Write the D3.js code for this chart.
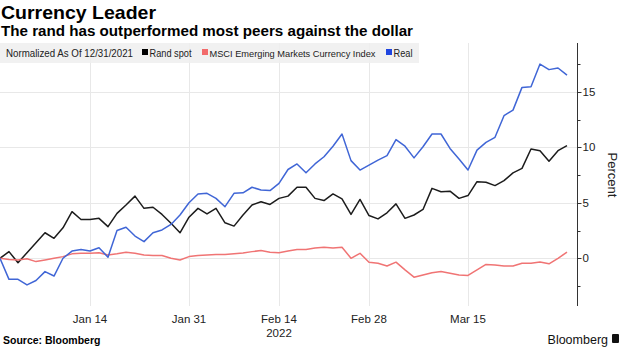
<!DOCTYPE html>
<html lang="en">
<head>
    <meta charset="UTF-8">
    <title>Currency Leader</title>
    <script src="https://d3js.org/d3.v7.min.js"></script>
    <style>
        body { margin: 0; background: #fff; }
        text { font-family: 'Liberation Sans', Arial, sans-serif; fill: #000; }
        .legend text { font-size: 10.5px; fill: #222; }
    </style>
</head>
<body>
<script>
    const width = 620;
    const height = 348;

    // weekdays from 12/31/2021 to 3/30/2022 (64 trading days)
    const dates = d3.utcDay.range(new Date(Date.UTC(2021, 11, 31)), new Date(Date.UTC(2022, 2, 31)))
                    .filter(d => d.getUTCDay() !== 0 && d.getUTCDay() !== 6);

    const randSpot = [0, 0.6, -0.4, 0.5, 1.4, 2.3, 1.8, 2.75, 4.2, 3.5,
                      3.5, 3.6, 2.85, 4.05, 4.8, 5.6, 4.5, 4.6, 3.95, 3.15,
                      2.3, 3.7, 4.5, 4.0, 4.5, 3.2, 2.9, 3.9, 4.8, 5.1,
                      4.85, 5.4, 5.6, 6.4, 6.4, 5.4, 5.2, 5.8, 5.35, 3.95,
                      5.3, 3.85, 3.55, 4.1, 4.9, 3.6, 3.9, 4.4, 6.3, 6.0,
                      6.05, 5.4, 5.65, 6.9, 6.85, 6.55, 7.0, 7.7, 8.1, 9.85,
                      9.7, 8.75, 9.7, 10.15];

    const msciEm = [0, -0.1, -0.15, -0.05, -0.3, -0.15, 0, 0.15, 0.4, 0.45,
                    0.45, 0.5, 0.3, 0.4, 0.55, 0.45, 0.3, 0.25, 0.25, 0,
                    -0.15, 0.15, 0.25, 0.3, 0.33, 0.33, 0.4, 0.48, 0.6, 0.7,
                    0.55, 0.5, 0.65, 0.8, 0.8, 0.93, 1.0, 0.93, 1.0, 0,
                    0.45, -0.35, -0.45, -0.7, -0.35, -1.05, -1.7, -1.5, -1.3, -1.2,
                    -1.35, -1.5, -1.55, -1.05, -0.55, -0.6, -0.7, -0.7, -0.45, -0.45,
                    -0.33, -0.5, 0, 0.55];

    const real = [0, -1.9, -1.9, -2.4, -2.0, -1.2, -1.6, 0, 0.65, 0.8,
                  0.65, 0.95, 0.1, 2.5, 2.8, 2.0, 1.5, 2.3, 2.55, 3.05,
                  3.9, 5.0, 5.8, 5.85, 5.4, 4.65, 5.85, 5.9, 6.4, 6.15,
                  6.1, 6.75, 8.0, 8.5, 7.7, 8.5, 9.15, 10.1, 11.2, 8.8,
                  7.95, 8.4, 8.85, 9.25, 10.7, 10.1, 9.05, 10.05, 11.2, 11.2,
                  9.9, 8.95, 7.95, 9.75, 10.45, 10.9, 12.85, 13.35, 15.4, 15.45,
                  17.5, 17.0, 17.15, 16.5];

    const seriesNames = ['Rand spot', 'MSCI Emerging Markets Currency Index', 'Real'];
    const lineColors = ['#1c1c1c', '#f07474', '#4066d6'];
    const swatchColors = ['#000000', '#f26b6b', '#1f45e0'];

    const xTickDates = ['2022-01-14', '2022-01-31', '2022-02-14', '2022-02-28', '2022-03-15'];
    const yMajor = [0, 5, 10, 15];
    const yMinor = [-2.5, 2.5, 7.5, 12.5, 17.5];

    const plot = {left: 0, right: 577, top: 43, bottom: 306};

    const x = d3.scalePoint()
                .domain(dates.map(d => +d))
                .range([0, 567]);
    const y = d3.scaleLinear()
                .domain([-4.3, 19.4])
                .range([plot.bottom, plot.top]);

    const svg = d3.select("body").append("svg").attr("width", width).attr("height", height);

    // title
    svg.append("text").attr("x", 1).attr("y", 19)
       .style("font-size", "19px").style("font-weight", "bold")
       .attr("textLength", 155).attr("lengthAdjust", "spacingAndGlyphs")
       .text("Currency Leader");
    svg.append("text").attr("x", 1).attr("y", 36)
       .style("font-size", "14px").style("font-weight", "bold")
       .attr("textLength", 412).attr("lengthAdjust", "spacingAndGlyphs")
       .text("The rand has outperformed most peers against the dollar");

    // grid
    const tickX = xTickDates.map(s => x(+new Date(s + "T00:00:00Z")));
    svg.append("g").selectAll("line").data(tickX).enter().append("line")
       .attr("x1", d => Math.round(d) + 0.5).attr("x2", d => Math.round(d) + 0.5)
       .attr("y1", plot.top).attr("y2", plot.bottom)
       .style("stroke", "#e8e8e8").style("stroke-width", 1);
    svg.append("g").selectAll("line").data(yMajor).enter().append("line")
       .attr("x1", plot.left).attr("x2", plot.right)
       .attr("y1", d => Math.round(y(d)) + 0.5).attr("y2", d => Math.round(y(d)) + 0.5)
       .style("stroke", "#e8e8e8").style("stroke-width", 1);

    // legend (text squeezed to the narrow widths of the original font)
    const legend = svg.append("g").attr("class", "legend");
    legend.append("rect").attr("x", 0).attr("y", 43).attr("width", 419).attr("height", 20)
          .style("fill", "#eeeeee").style("opacity", 0.85);
    legend.append("text").attr("x", 6).attr("y", 57)
          .attr("textLength", 127).attr("lengthAdjust", "spacingAndGlyphs")
          .text("Normalized As Of 12/31/2021");
    const legendX = [142, 202, 386];
    const legendW = [42, 166, 19];
    const legendSize = [10.5, 9.8, 10.5];
    seriesNames.forEach((name, i) => {
        legend.append("rect").attr("x", legendX[i]).attr("y", 49).attr("width", 6).attr("height", 6)
              .style("fill", swatchColors[i]);
        legend.append("text").attr("x", legendX[i] + 7.5).attr("y", 57)
              .style("font-size", legendSize[i] + "px")
              .attr("textLength", legendW[i]).attr("lengthAdjust", "spacingAndGlyphs")
              .text(name);
    });

    // lines
    const line = d3.line().x((d, i) => x(+dates[i])).y(d => y(d));
    [randSpot, msciEm, real].forEach((vals, i) => {
        svg.append("path").datum(vals)
           .attr("d", line)
           .style("fill", "none")
           .style("stroke", lineColors[i])
           .style("stroke-width", 1.5)
           .style("stroke-linejoin", "round");
    });

    // right axis
    const yAxis = svg.append("g").attr("transform", `translate(${plot.right + 0.5},0)`);
    yAxis.append("line").attr("x1", 0).attr("x2", 0).attr("y1", plot.top).attr("y2", plot.bottom)
         .style("stroke", "#333").style("stroke-width", 1);
    yAxis.selectAll(".maj").data(yMajor).enter().append("line")
         .attr("x1", 0).attr("x2", 4)
         .attr("y1", d => Math.round(y(d)) + 0.5).attr("y2", d => Math.round(y(d)) + 0.5)
         .style("stroke", "#333");
    yAxis.selectAll(".min").data(yMinor).enter().append("line")
         .attr("x1", 0).attr("x2", 3)
         .attr("y1", d => Math.round(y(d)) + 0.5).attr("y2", d => Math.round(y(d)) + 0.5)
         .style("stroke", "#333");
    yAxis.selectAll("text").data(yMajor).enter().append("text")
         .attr("x", 5).attr("y", d => y(d) + 4)
         .style("font-size", "11.5px").style("fill", "#222")
         .text(d => d);

    svg.append("text")
       .attr("transform", `translate(608,175) rotate(90)`)
       .attr("text-anchor", "middle")
       .style("font-size", "13px").style("fill", "#222")
       .text("Percent");

    // x labels
    const fmt = d3.utcFormat("%b %-d");
    svg.append("g").selectAll("text").data(xTickDates).enter().append("text")
       .attr("x", (d, i) => tickX[i]).attr("y", 323)
       .attr("text-anchor", "middle")
       .style("font-size", "11.5px").style("fill", "#222")
       .text(d => fmt(new Date(d + "T00:00:00Z")));
    svg.append("text").attr("x", tickX[2]).attr("y", 337)
       .attr("text-anchor", "middle")
       .style("font-size", "11.5px").style("fill", "#222")
       .text("2022");

    // footer
    svg.append("text").attr("x", 3).attr("y", 344)
       .style("font-size", "10.5px").style("font-weight", "bold")
       .text("Source: Bloomberg");
    svg.append("text").attr("x", 608).attr("y", 344)
       .attr("text-anchor", "end")
       .style("font-size", "12.5px").style("fill", "#111")
       .text("Bloomberg");
    svg.append("rect").attr("x", 612).attr("y", 334).attr("width", 7).attr("height", 9)
       .attr("rx", 1).style("fill", "#111");
</script>
</body>
</html>
